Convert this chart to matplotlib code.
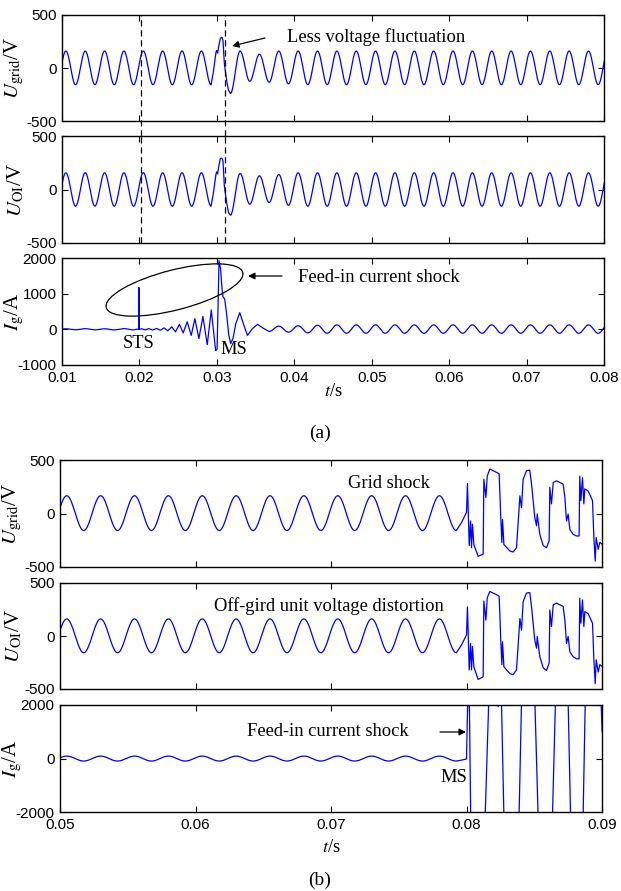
import numpy as np
import matplotlib.pyplot as plt
from matplotlib.patches import Ellipse, FancyArrowPatch
from matplotlib.ticker import FormatStrFormatter

W, H, DPI = 621, 891, 100
HALF = 0.00125  # half period of the 400 Hz waveforms, s

# ---------------- (a) ----------------
# extrema (trough/peak alternating every half period) before and after the transient
ugrid_a_pre_t0 = 0.00925
ugrid_a_pre = [-158, 160, -158, 160, -157, 161, -158, 160, -158, 160, -157, 160,
               -158, 161, -158, 160, -158]
ugrid_a_spike_t = [0.02925, 0.02954, 0.02989, 0.02998, 0.03010, 0.03023, 0.03045,
                   0.03066, 0.03079, 0.03097, 0.03127, 0.03150, 0.03175]
ugrid_a_spike_v = [-158, -40, 150, 165, 140, 200, 280, 290, 260, 40, -120, -210, -240]
ugrid_a_post_t0 = 0.03175
ugrid_a_post = [-240, 160, -125, 130, -134, 160, -150, 160,
                -157, 160, -157, 160, -157, 160, -157, 160, -157, 160, -157, 160,
                -157, 160, -157, 160, -157, 160, -157, 160, -157, 160, -157, 160,
                -157, 160, -157, 160, -157, 160, -157, 160]

uoi_a_pre_t0 = 0.00925
uoi_a_pre = [-156, 156, -156, 157, -155, 156, -156, 156, -156, 157, -156, 156,
             -156, 157, -156, 156, -156]
uoi_a_spike_t = [0.02925, 0.02954, 0.02989, 0.02998, 0.03010, 0.03023, 0.03045,
                 0.03066, 0.03079, 0.03097, 0.03127, 0.03150, 0.03175]
uoi_a_spike_v = [-156, -40, 145, 165, 145, 210, 290, 292, 265, 30, -125, -215, -240]
uoi_a_post_t0 = 0.03175
uoi_a_post = [-240, 150, -137, 128, -122, 140, -147, 156,
              -156, 156, -156, 156, -156, 156, -156, 156, -156, 156, -156, 156,
              -156, 156, -156, 156, -156, 156, -156, 156, -156, 156, -156, 156,
              -156, 156, -156, 156, -156, 156, -156, 156]

ig_a_pre_t0 = 0.00925
ig_a_pre = [-15, 15, -12, 18, -15, 15, -15, 20, -15]
ig_a_tr_t = [0.01925, 0.01960, 0.01990, 0.01993, 0.01997, 0.02030, 0.02075, 0.02120,
             0.02172, 0.02219, 0.02271, 0.02319, 0.02366, 0.02418, 0.02465, 0.02517,
             0.02565, 0.02617, 0.02669, 0.02716, 0.02768, 0.02820, 0.02876, 0.02928,
             0.02984, 0.03003, 0.03028, 0.03049, 0.03066, 0.03079, 0.03101, 0.03127,
             0.03153, 0.03179, 0.03209, 0.03244, 0.03296, 0.03343, 0.03395, 0.03460,
             0.03525, 0.03600, 0.03675]
ig_a_tr_v = [-15, 0, 5, 1170, 0, 15, -15, 20, -20, 25, -25, 40, -40, 70, -70, 140,
             -100, 210, -170, 300, -260, 360, -430, 540, -595, -560, 1925, 1680, 1150,
             915, 850, 420, -150, -400, -250, 150, 470, 150, -170, 20, 140, 30, -60]
ig_a_post_t0 = 0.03675
ig_a_post = [-60, 90, -80, 100, -100, 115, -110,
             125, -110, 125, -110, 125, -110, 125, -110, 125, -110, 125, -110, 125,
             -110, 125, -110, 125, -110, 125, -110, 125, -110, 125, -110, 125, -110,
             125, -110, 125]

# ---------------- (b) ----------------
ugrid_b_t0 = 0.04925
ugrid_b = [-159, 166, -159, 166, -159, 166, -159, 166, -159, 166, -159, 166, -159,
           166, -159, 166, -159, 166, -159, 166, -159, 166, -159, 166, -159]
ugrid_b_tail_t = [0.07925, 0.07963, 0.08000, 0.08007, 0.08020, 0.08030, 0.08037,
                  0.08044, 0.08054, 0.08086, 0.08123, 0.08128, 0.08143, 0.08153,
                  0.08172, 0.08221, 0.08241, 0.08253, 0.08261, 0.08266, 0.08276,
                  0.08320, 0.08344, 0.08369, 0.08394, 0.08406, 0.08418, 0.08443,
                  0.08467, 0.08480, 0.08504, 0.08517, 0.08522, 0.08541, 0.08566,
                  0.08590, 0.08610, 0.08615, 0.08627, 0.08640, 0.08664, 0.08713,
                  0.08726, 0.08738, 0.08750, 0.08763, 0.08787, 0.08812, 0.08831,
                  0.08836, 0.08844, 0.08856, 0.08866, 0.08873, 0.08898, 0.08930,
                  0.08940, 0.08950, 0.08957, 0.08972, 0.08984, 0.09004]
ugrid_b_tail_v = [-159, -85, 10, 280, -300, -70, -320, -100, -290, -400, -380, 320,
                  150, 350, 415, 385, 370, -40, -270, -55, -290, -350, -360, -320,
                  165, 55, 320, 400, 405, 275, -40, -115, -5, -195, -300, -320, -255,
                  245, 90, 290, 305, 275, 150, -70, -5, -150, -195, -210, -210, 350,
                  120, 335, 90, 230, 210, 120, -225, -445, -225, -335, -270, -290]

uoi_b_t0 = 0.04925
uoi_b = [-158, 161, -158, 161, -158, 161, -158, 161, -158, 161, -158, 161, -158,
         161, -158, 161, -158, 161, -158, 161, -158, 161, -158, 161, -158]
uoi_b_tail_t = ugrid_b_tail_t
uoi_b_tail_v = [-158, -85, 10, 275, -320, -70, -320, -100, -290, -410, -385, 330,
                150, 360, 420, 390, 375, -40, -270, -55, -290, -355, -365, -320,
                165, 55, 325, 405, 410, 275, -40, -115, -5, -195, -300, -325, -255,
                245, 90, 295, 310, 280, 150, -70, -5, -150, -195, -215, -215, 355,
                120, 340, 90, 230, 210, 120, -225, -450, -225, -340, -270, -290]

ig_b_t0 = 0.04925
ig_b = [-95, 90, -95, 90, -95, 90, -95, 90, -95, 90, -95, 90, -95,
        90, -95, 90, -95, 90, -95, 90, -95, 90, -95, 90, -95]
ig_b_tail_t = [0.07925, 0.07963, 0.08000, 0.08007, 0.08013, 0.08020, 0.08032,
               0.08135, 0.08167, 0.08221, 0.08234, 0.08246, 0.08256, 0.08278,
               0.08386, 0.08408, 0.08502, 0.08531, 0.08632, 0.08659, 0.08748,
               0.08770, 0.08859, 0.08878, 0.08990, 0.09001]
ig_b_tail_v = [-95, -60, -20, 1700, 2600, 2600, -2600, -2600, 2600, 2600, 1940,
               2600, 2600, -2600, -2600, 2600, 2600, -2600, -2600, 2600, 2600,
               -2600, -2600, 2600, 2600, 1000]


def half_waves(t0, ext, n=24):
    # smooth half cycles between successive extrema
    ts, vs = [], []
    s = np.linspace(0, 1, n, endpoint=False)
    for k in range(len(ext) - 1):
        ts.append(t0 + (k + s) * HALF)
        vs.append(ext[k] + (ext[k + 1] - ext[k]) * (1 - np.cos(np.pi * s)) / 2)
    ts.append([t0 + (len(ext) - 1) * HALF])
    vs.append([ext[-1]])
    return np.concatenate(ts), np.concatenate(vs)


def trace(*pieces):
    ts, vs = [], []
    for p in pieces:
        if p[0] == 'wave':
            t, v = half_waves(p[1], p[2])
        else:
            t, v = np.asarray(p[1], float), np.asarray(p[2], float)
        ts.append(t)
        vs.append(v)
    return np.concatenate(ts), np.concatenate(vs)


plt.rcParams['font.family'] = 'Liberation Sans'
plt.rcParams['mathtext.fontset'] = 'stix'
plt.rcParams['axes.unicode_minus'] = False

fig = plt.figure(figsize=(W / DPI, H / DPI), dpi=DPI)


def px_ax(left, top, right, bottom):
    return fig.add_axes([left / W, 1 - bottom / H, (right - left) / W, (bottom - top) / H])


def fx(px):
    return px / W


def fy(py):
    return 1 - py / H


def inch(px, py):
    return (px / DPI, (H - py) / DPI)


SERIF = 'Liberation Serif'
BLUE = '#0000ff'

axes_a = [px_ax(62, 15, 604, 121), px_ax(62, 136, 604, 243), px_ax(62, 258, 604, 365)]
axes_b = [px_ax(60, 460, 602, 567), px_ax(60, 583, 602, 689), px_ax(60, 705, 602, 812)]

curves_a = [
    trace(('wave', ugrid_a_pre_t0, ugrid_a_pre), ('pts', ugrid_a_spike_t, ugrid_a_spike_v),
          ('wave', ugrid_a_post_t0, ugrid_a_post)),
    trace(('wave', uoi_a_pre_t0, uoi_a_pre), ('pts', uoi_a_spike_t, uoi_a_spike_v),
          ('wave', uoi_a_post_t0, uoi_a_post)),
    trace(('wave', ig_a_pre_t0, ig_a_pre), ('pts', ig_a_tr_t, ig_a_tr_v),
          ('wave', ig_a_post_t0, ig_a_post)),
]
curves_b = [
    trace(('wave', ugrid_b_t0, ugrid_b), ('pts', ugrid_b_tail_t, ugrid_b_tail_v)),
    trace(('wave', uoi_b_t0, uoi_b), ('pts', uoi_b_tail_t, uoi_b_tail_v)),
    trace(('wave', ig_b_t0, ig_b), ('pts', ig_b_tail_t, ig_b_tail_v)),
]

ylabels = [r'$U_{\mathrm{grid}}$/V', r'$U_{\mathrm{OI}}$/V', r'$I_{\mathrm{g}}$/A']

for group, curves, xlim, xticks, lims, yticks, lx in [
        (axes_a, curves_a, (0.01, 0.08), np.arange(0.01, 0.0801, 0.01),
         [(-500, 500), (-500, 500), (-1000, 2000)],
         [[-500, 0, 500], [-500, 0, 500], [-1000, 0, 1000, 2000]], -0.066),
        (axes_b, curves_b, (0.05, 0.09), np.arange(0.05, 0.0901, 0.01),
         [(-500, 500), (-500, 500), (-2000, 2000)],
         [[-500, 0, 500], [-500, 0, 500], [-2000, 0, 2000]], -0.066)]:
    for i, ax in enumerate(group):
        t, v = curves[i]
        ax.plot(t, v, color=BLUE, lw=0.9)
        ax.set_xlim(*xlim)
        ax.set_ylim(*lims[i])
        ax.set_xticks(xticks)
        ax.set_yticks(yticks[i])
        ax.xaxis.set_major_formatter(FormatStrFormatter('%.2f'))
        ax.tick_params(direction='in', top=True, right=True, length=4, width=0.8,
                       labelsize=11, pad=4)
        for sp in ax.spines.values():
            sp.set_linewidth(1.0)
        if i < 2:
            ax.tick_params(labelbottom=False)
        ax.set_ylabel(ylabels[i], fontsize=15, family=SERIF)
        ax.yaxis.set_label_coords(lx, 0.5)

# switching instants
for x in [0.02026, 0.0311]:
    axes_a[0].axvline(x, ymin=-0.145, ymax=1, color='k', lw=0.9, ls=(0, (5, 3)),
                      clip_on=False)
    axes_a[1].axvline(x, color='k', lw=0.9, ls=(0, (5, 3)))

txt = dict(family=SERIF, fontsize=13.3, va='center')
fig.text(fx(287), fy(37), 'Less voltage fluctuation', ha='left', **txt)
fig.text(fx(298), fy(278), 'Feed-in current shock', ha='left', **txt)
fig.text(fx(139), fy(344), 'STS', ha='center', **txt)
fig.text(fx(234), fy(349), 'MS', ha='center', **txt)
fig.text(fx(320), fy(433), '(a)', ha='center', family=SERIF, fontsize=14, va='center')
fig.text(fx(333), fy(391), r'$t$/s', ha='center', **txt)

fig.text(fx(389), fy(484), 'Grid shock', ha='center', **txt)
fig.text(fx(329), fy(606), 'Off-gird unit voltage distortion', ha='center', **txt)
fig.text(fx(247), fy(732), 'Feed-in current shock', ha='left', **txt)
fig.text(fx(467), fy(777), 'MS', ha='right', **txt)
fig.text(fx(331), fy(847), r'$t$/s', ha='center', **txt)
fig.text(fx(320), fy(880), '(b)', ha='center', family=SERIF, fontsize=14, va='center')

fig.add_artist(Ellipse(inch(174.5, 290), 141 / DPI, 40 / DPI, angle=14.4,
                       transform=fig.dpi_scale_trans, fill=False, ec='k', lw=0.9))

for a, b in [((265, 38), (232, 46)), ((282, 276), (248, 276)), ((440, 732), (466, 732))]:
    fig.add_artist(FancyArrowPatch(inch(*a), inch(*b), transform=fig.dpi_scale_trans,
                                   arrowstyle='-|>', mutation_scale=10, lw=0.9,
                                   color='k', shrinkA=0, shrinkB=0))

fig.savefig('out.png', dpi=DPI)
